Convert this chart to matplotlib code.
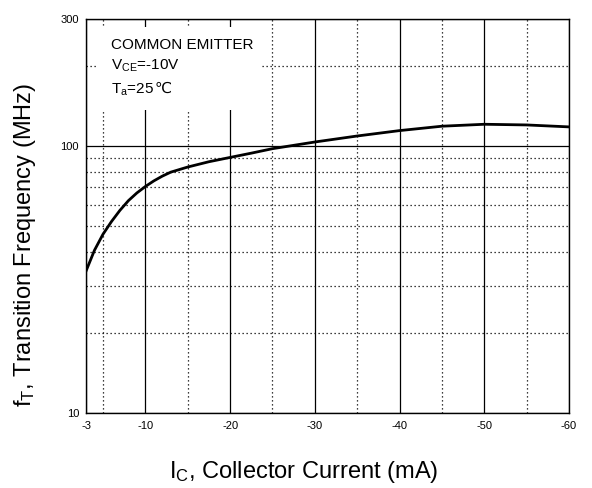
import matplotlib
matplotlib.use("Agg")
import matplotlib.pyplot as plt
from matplotlib.patches import Rectangle
from matplotlib.ticker import FixedLocator, NullFormatter

plt.rcParams['font.family'] = ['Liberation Sans', 'DejaVu Sans']
plt.rcParams['mathtext.fontset'] = 'custom'
plt.rcParams['mathtext.rm'] = 'Liberation Sans'
plt.rcParams['mathtext.it'] = 'Liberation Sans:italic'

# collector current magnitude (mA) and transition frequency (MHz)
ic = [3, 4, 5, 6, 7, 8, 9, 10, 11, 12, 13, 15, 17.5, 20, 22.5, 25, 30, 35, 40, 45, 50, 55, 60]
ft = [34, 40.7, 46.7, 52.1, 57.4, 62.4, 66.7, 70.5, 74, 77.1, 79.8, 83.4, 87.3, 90.6, 94, 97.7,
      103.5, 109, 114.2, 118.6, 120.6, 119.9, 117.9]

x_major = [3, 10, 20, 30, 40, 50, 60]
x_labels = ['-3', '-10', '-20', '-30', '-40', '-50', '-60']
x_minor = [5, 15, 25, 35, 45, 55]
y_major = [10, 100, 300]
y_labels = ['10', '100', '300']
y_minor = [20, 30, 40, 50, 60, 70, 80, 90, 200]

fig = plt.figure(figsize=(5.92, 4.88), dpi=100)
ax = fig.add_axes([0.1453, 0.1537, 0.8159, 0.8082])

ax.set_yscale('log')
ax.set_xlim(3, 60)
ax.set_ylim(10, 300)

ax.xaxis.set_major_locator(FixedLocator(x_major))
ax.set_xticklabels(x_labels)
ax.xaxis.set_minor_locator(FixedLocator(x_minor))
ax.yaxis.set_major_locator(FixedLocator(y_major))
ax.set_yticklabels(y_labels)
ax.yaxis.set_minor_locator(FixedLocator(y_minor))
ax.yaxis.set_minor_formatter(NullFormatter())

ax.tick_params(which='both', length=0, labelsize=8)
ax.tick_params(axis='x', pad=6)
ax.tick_params(axis='y', pad=5)

ax.set_axisbelow(True)
ax.grid(which='major', color='black', linestyle='-', linewidth=0.9)
ax.grid(which='minor', color='black', linestyle=(0, (1, 2.2)), linewidth=0.9)

for s in ax.spines.values():
    s.set_linewidth(1.0)
    s.set_color('black')
    s.set_zorder(5)

# white panel behind the condition text
ax.add_patch(Rectangle((0.023, 0.768), 0.341, 0.211, transform=ax.transAxes,
                       facecolor='white', edgecolor='none', zorder=1))

ax.plot(ic, ft, color='black', linewidth=2.0, zorder=3, solid_joinstyle='round')

ax.text(0.052, 0.923, 'COMMON EMITTER', transform=ax.transAxes, fontsize=11, zorder=4)
ax.text(0.052, 0.870, r'$\mathregular{V_{CE}}$=-10V', transform=ax.transAxes, fontsize=11, zorder=4)
t = ax.text(0.052, 0.811, r'$\mathregular{T_a}$=25', transform=ax.transAxes, fontsize=11, zorder=4)
ax.annotate('℃', xy=(1, 0.811), xycoords=(t, ax.transAxes), xytext=(0.3, 0),
            textcoords='offset points', ha='left', va='baseline', fontsize=11, zorder=4)

ax.set_xlabel(r'$\mathregular{I_C}$, Collector Current (mA)', fontsize=17)
ax.set_ylabel(r'$\mathregular{f_T}$, Transition Frequency (MHz)', fontsize=17)
ax.xaxis.set_label_coords(0.451, -0.116)
ax.yaxis.set_label_coords(-0.099, 0.426)

plt.savefig('out.png', dpi=100)
